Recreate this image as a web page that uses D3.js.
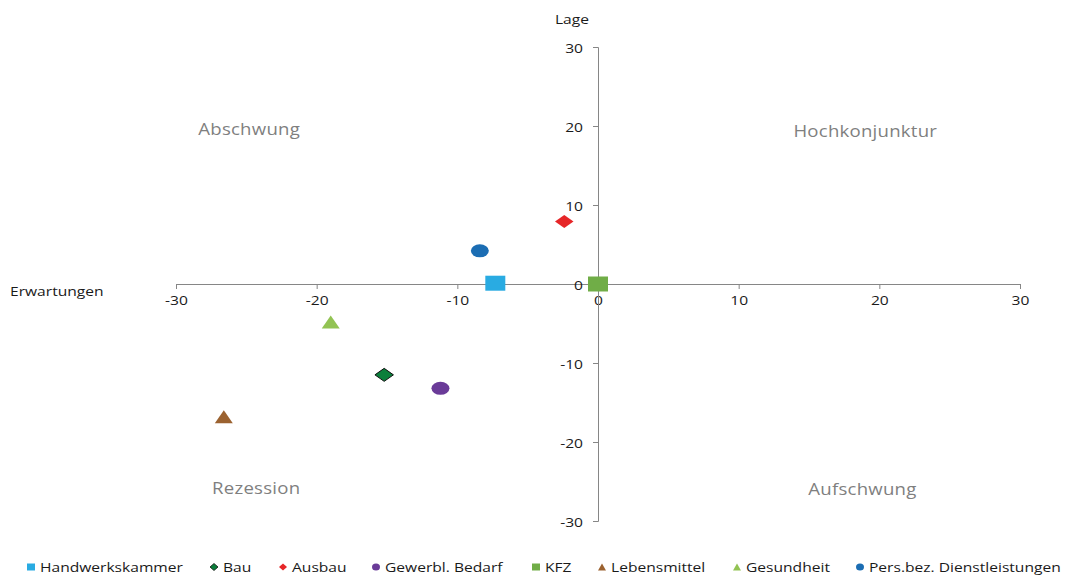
<!DOCTYPE html>
<html>
<head>
<meta charset="utf-8">
<script src="https://cdn.jsdelivr.net/npm/d3@7"></script>
<style>
  html, body { margin: 0; padding: 0; background: #fff; }
  svg text { font-family: "Open Sans", "Noto Sans", sans-serif; }
</style>
</head>
<body>
<svg id="chart" width="1067" height="576"></svg>
<script>
// Business climate by trade: expectations (x) vs. current situation (y)
const sectors = ["Handwerkskammer", "Bau", "Ausbau", "Gewerbl. Bedarf", "KFZ", "Lebensmittel", "Gesundheit", "Pers.bez. Dienstleistungen"];
const erwartungen = [-7.3, -15.2, -2.4, -11.2, 0.0, -26.6, -19.0, -8.4];
const lage = [0.1, -11.5, 7.9, -13.2, 0.0, -16.8, -4.8, 4.2];
const shapes = ["square", "diamond", "diamond", "circle", "square", "triangle", "triangle", "circle"];
const colors = ["#29abe2", "#0b7f3b", "#e62628", "#6a3b98", "#70ad47", "#9b6230", "#92c353", "#1b6db3"];
const xTicks = [-30, -20, -10, 0, 10, 20, 30];
const yTicks = [30, 20, 10, 0, -10, -20, -30];
const quadrants = [
  { name: "Abschwung", x: -24.8, y: 19.6 },
  { name: "Hochkonjunktur", x: 19, y: 19.4 },
  { name: "Rezession", x: -24.3, y: -25.8 },
  { name: "Aufschwung", x: 18.8, y: -25.9 }
];

const svg = d3.select("#chart");
const x = d3.scaleLinear().domain([-30, 30]).range([176, 1020]);
const y = d3.scaleLinear().domain([-30, 30]).range([521, 47]);

const axisColor = "#868686";
const textColor = "#1a1a1a";
const stretch = 1.2;   // wide letterforms
const nudge = 2;       // vertical centring correction for the font
const fmt = d => String(d);  // plain hyphen-minus

// place a text element at (px,py) with horizontally widened glyphs
function placeText(sel, px, py) {
  sel.attr("x", 0).attr("y", 0)
    .attr("transform", (d, i) => {
      const X = typeof px === "function" ? px(d, i) : px;
      const Y = typeof py === "function" ? py(d, i) : py;
      return `translate(${X},${Y + nudge}) scale(${stretch},1)`;
    });
  return sel;
}

// Horizontal axis through y = 0, ticks pointing down
const gx = svg.append("g").attr("transform", `translate(0,${y(0)})`)
  .call(d3.axisBottom(x).tickValues(xTicks).tickSize(5).tickSizeOuter(5).tickFormat(fmt));
gx.select(".domain").attr("stroke", axisColor);
gx.selectAll(".tick line").attr("stroke", axisColor);
gx.selectAll(".tick text").attr("fill", textColor).attr("font-size", 13)
  .attr("dy", null).attr("dominant-baseline", "middle")
  .attr("x", 0).attr("y", 0).attr("transform", `translate(0,${16 + nudge}) scale(${stretch},1)`);

// Vertical axis through x = 0, ticks pointing left
const gy = svg.append("g").attr("transform", `translate(${x(0)},0)`)
  .call(d3.axisLeft(y).tickValues(yTicks).tickSize(5).tickSizeOuter(5).tickFormat(fmt));
gy.select(".domain").attr("stroke", axisColor);
gy.selectAll(".tick line").attr("stroke", axisColor);
gy.selectAll(".tick text").attr("fill", textColor).attr("font-size", 13)
  .attr("dy", null).attr("dominant-baseline", "middle")
  .attr("x", 0).attr("y", 0).attr("transform", `translate(-15,${nudge}) scale(${stretch},1)`);

// Axis titles
placeText(svg.append("text"), 572, 19).attr("text-anchor", "middle").attr("dominant-baseline", "middle")
  .attr("font-size", 13).attr("fill", textColor).text("Lage");
placeText(svg.append("text"), 10, 291).attr("text-anchor", "start").attr("dominant-baseline", "middle")
  .attr("font-size", 13).attr("fill", textColor).text("Erwartungen");

// Quadrant captions
placeText(svg.selectAll(".quad").data(quadrants).enter().append("text").attr("class", "quad"),
    d => x(d.x), d => y(d.y))
  .attr("text-anchor", "middle").attr("dominant-baseline", "middle")
  .attr("font-size", 15.5).attr("fill", "#7f7f7f").attr("letter-spacing", 0.2)
  .text(d => d.name);

// Marker shapes, slightly wider than tall
function markerPath(shape, w, h) {
  const a = w / 2, b = h / 2;
  switch (shape) {
    case "square": return `M${-a},${-b}H${a}V${b}H${-a}Z`;
    case "diamond": return `M0,${-b}L${a},0L0,${b}L${-a},0Z`;
    case "triangle": return `M0,${-b}L${a},${b}L${-a},${b}Z`;
    case "circle": return `M${-a},0A${a},${b} 0 1,0 ${a},0A${a},${b} 0 1,0 ${-a},0Z`;
  }
}
const markerSize = {
  square: [20, 15], diamond: [18.5, 13], triangle: [18, 13], circle: [18, 13]
};

const data = sectors.map((s, i) => ({ name: s, ex: erwartungen[i], la: lage[i], shape: shapes[i], color: colors[i] }));

svg.append("g").selectAll("path").data(data).enter().append("path")
  .attr("transform", d => `translate(${x(d.ex)},${y(d.la)})`)
  .attr("d", d => markerPath(d.shape, ...markerSize[d.shape]))
  .attr("fill", d => d.color)
  .attr("stroke", d => d.name === "Bau" ? "#111" : "none")
  .attr("stroke-width", 1);

// Legend along the bottom edge
const legendX = [31, 214, 283, 376, 536, 602, 737, 860];
const lg = svg.append("g").selectAll("g").data(data).enter().append("g")
  .attr("transform", (d, i) => `translate(${legendX[i]},567)`);
lg.append("path")
  .attr("d", d => markerPath(d.shape, 8, 7))
  .attr("fill", d => d.color)
  .attr("stroke", d => d.name === "Bau" ? "#111" : "none").attr("stroke-width", 0.8);
placeText(lg.append("text"), 9, -0.5)
  .attr("dominant-baseline", "middle").attr("font-size", 13).attr("fill", textColor)
  .text(d => d.name);
</script>
</body>
</html>
